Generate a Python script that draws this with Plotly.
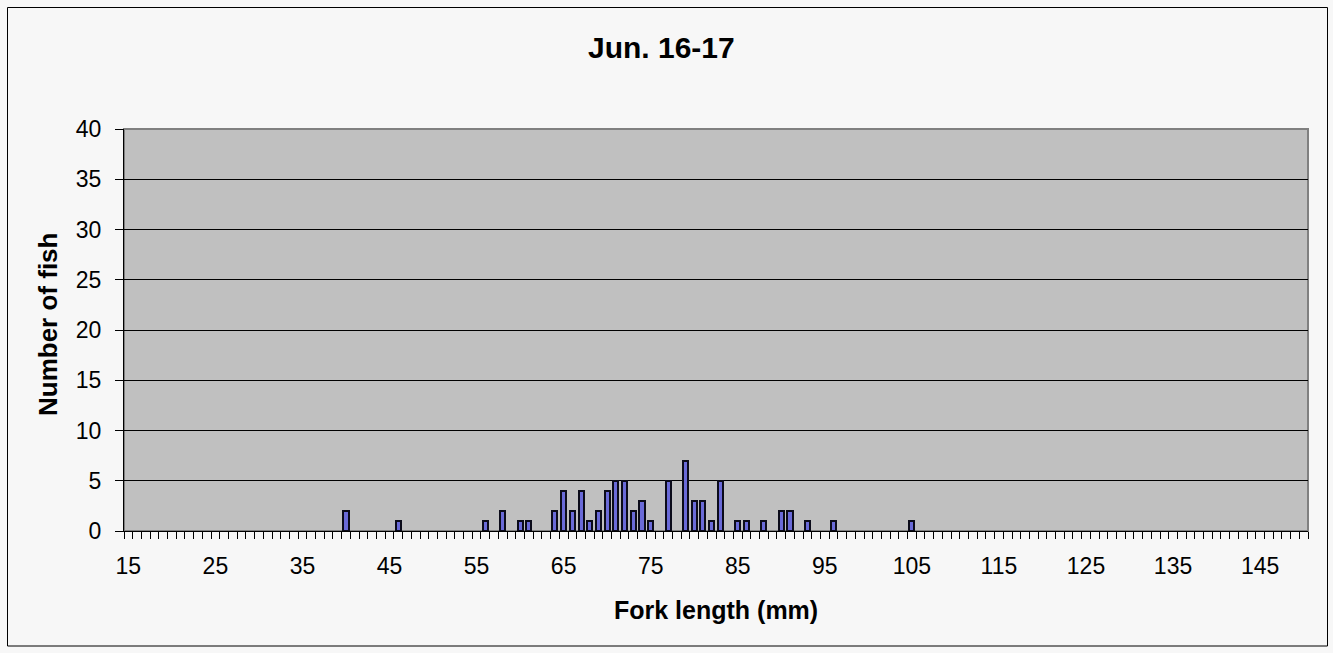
import plotly.graph_objects as go

# Fork length (mm) categories that have fish, and counts
fork_length = [40, 46, 56, 58, 60, 61, 64, 65, 66, 67, 68, 69, 70, 71, 72, 73, 74, 75,
               77, 79, 80, 81, 82, 83, 85, 86, 88, 90, 91, 93, 96, 105]
num_fish = [2, 1, 1, 2, 1, 1, 2, 4, 2, 4, 1, 2, 4, 5, 5, 2, 3, 1,
            5, 7, 3, 3, 1, 5, 1, 1, 1, 2, 2, 1, 1, 1]

x_min, x_max = 15, 150
x_tick_labels = [15, 25, 35, 45, 55, 65, 75, 85, 95, 105, 115, 125, 135, 145]
y_ticks = [0, 5, 10, 15, 20, 25, 30, 35, 40]

W, H = 1333, 653
L, R, T, B = 124, 1308, 129, 531

fig = go.Figure()
fig.add_trace(go.Bar(
    x=fork_length, y=num_fish, width=0.58,
    marker=dict(color="#6A6AD8", line=dict(color="#0B0B1A", width=2)),
    showlegend=False,
))

font = "Arial, Liberation Sans, sans-serif"
pw = R - L
ph = B - T
def px2x(p):
    return (p - L) / pw
def py2y(p):
    return (B - p) / ph

fig.update_layout(
    width=W, height=H,
    margin=dict(l=L, r=W - R, t=T, b=H - B, pad=0),
    paper_bgcolor="#F7F7F7",
    plot_bgcolor="#C0C0C0",
    bargap=0,
    font=dict(family=font, color="black", size=23),
    xaxis=dict(
        range=[x_min - 0.5, x_max + 0.5],
        tickvals=x_tick_labels, ticktext=[str(v) for v in x_tick_labels],
        ticks="", showgrid=False, zeroline=False,
        showline=True, linecolor="black", linewidth=1,
        tickfont=dict(size=23), ticklabelstandoff=14,
        minor=dict(tickvals=[v + 0.5 for v in range(x_min - 1, x_max + 1)],
                   ticks="outside", ticklen=7, tickcolor="black", tickwidth=1, showgrid=False),
        fixedrange=True,
    ),
    yaxis=dict(
        range=[0, 40], tickvals=y_ticks,
        ticks="outside", ticklen=8, tickcolor="black",
        showgrid=True, gridcolor="black", gridwidth=1,
        zeroline=False, showline=True, linecolor="black", linewidth=1,
        tickfont=dict(size=23), ticklabelstandoff=9,
        fixedrange=True,
    ),
    annotations=[
        dict(text="<b>Jun. 16-17</b>", xref="paper", yref="paper",
             x=px2x(661), y=py2y(48), xanchor="center", yanchor="middle",
             showarrow=False, font=dict(size=30)),
        dict(text="<b>Fork length (mm)</b>", xref="paper", yref="paper",
             x=px2x(716), y=py2y(610), xanchor="center", yanchor="middle",
             showarrow=False, font=dict(size=25)),
        dict(text="<b>Number of fish</b>", xref="paper", yref="paper",
             x=px2x(48), y=py2y(325), xanchor="center", yanchor="middle",
             textangle=-90, showarrow=False, font=dict(size=26)),
    ],
    shapes=[
        dict(type="rect", xref="paper", yref="paper",
             x0=0, x1=1, y0=0, y1=1, line=dict(color="#808080", width=2), layer="below"),
        dict(type="rect", xref="paper", yref="paper",
             x0=px2x(7.5), x1=px2x(1327.5), y0=py2y(7.5), y1=py2y(646),
             line=dict(color="black", width=1), layer="above"),
    ],
)

fig.write_html("out.html")
